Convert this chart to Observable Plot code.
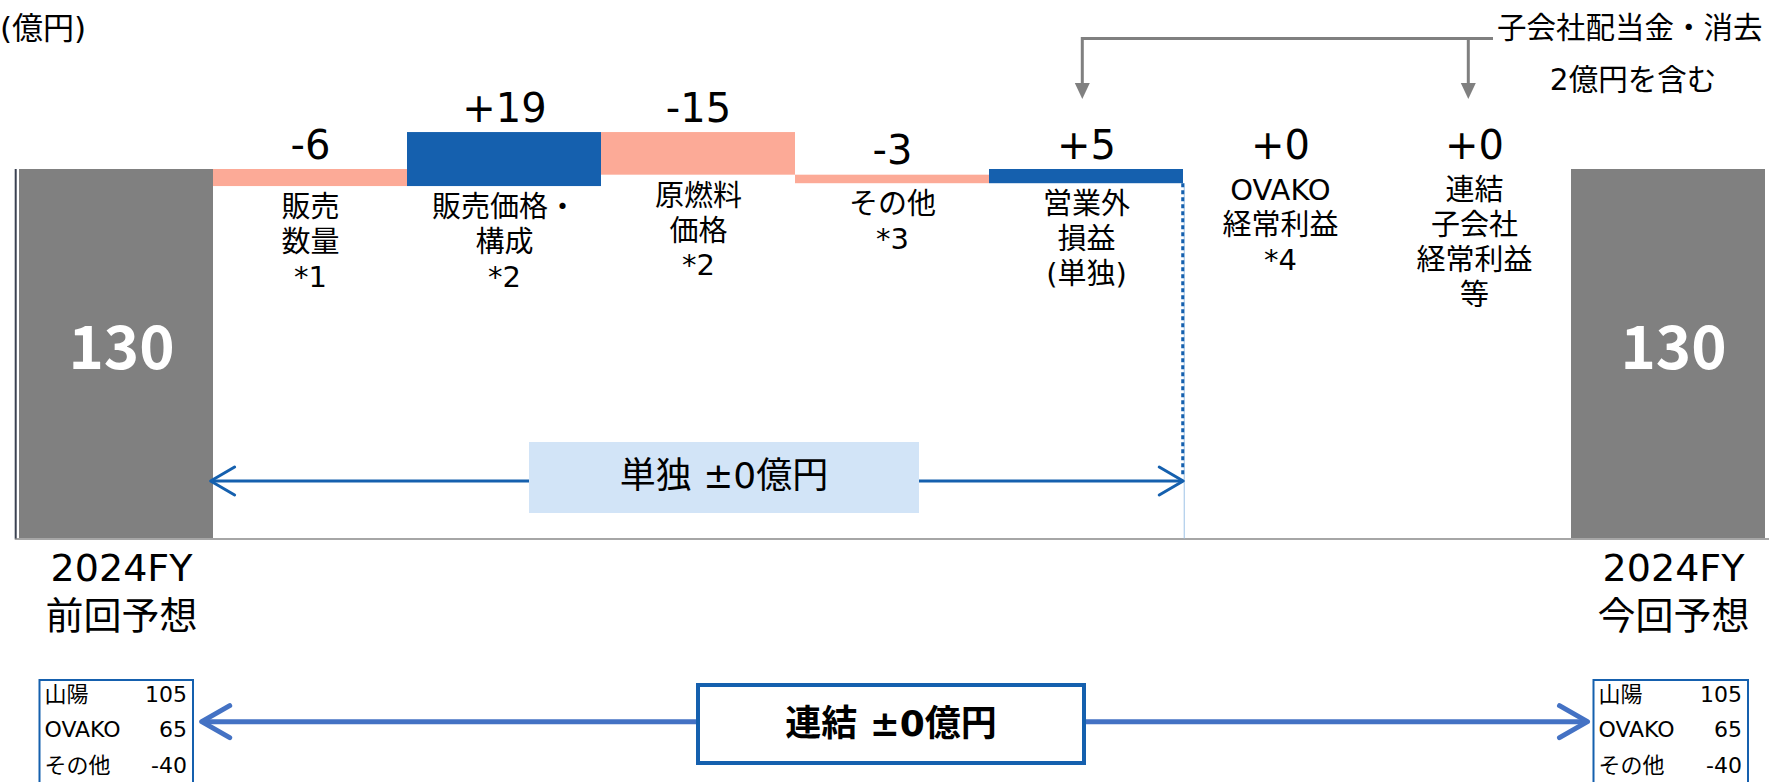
<!DOCTYPE html>
<html><head><meta charset="utf-8">
<script src="https://cdn.jsdelivr.net/npm/d3@7"></script>
<script src="https://cdn.jsdelivr.net/npm/@observablehq/plot@0.6"></script>
<style>html,body{margin:0;padding:0;background:#fff;overflow:hidden} svg{display:block}</style>
</head><body><div id="chart"></div>
<script>
// ---------- data ----------
const categories = ["前回予想", "販売数量", "販売価格・構成", "原燃料価格", "その他", "営業外損益", "OVAKO経常利益", "連結子会社経常利益等", "今回予想"];
const categoryLabels = ["2024FY\n前回予想", "販売\n数量\n*1", "販売価格・\n構成\n*2", "原燃料\n価格\n*2", "その他\n*3", "営業外\n損益\n(単独)", "OVAKO\n経常利益\n*4", "連結\n子会社\n経常利益\n等", "2024FY\n今回予想"];
const startTotal = 130;
const endTotal = 130;
const deltas = [-6, 19, -15, -3, 5, 0, 0];
const unitLabel = "(億円)";
const noteLines = ["子会社配当金・消去", "2億円を含む"];
const standaloneLabel = "単独 ±0億円";
const consolidatedLabel = "連結 ±0億円";
const breakdownNames = ["山陽", "OVAKO", "その他"];
const breakdownPrev = [105, 65, -40];
const breakdownCurr = [105, 65, -40];

// ---------- build table ----------
let run = startTotal;
const rows = categories.map((cat, i) => {
  const label = categoryLabels[i];
  if (i === 0) return {cat, label, y1: 0, y2: startTotal, kind: "total", value: startTotal};
  if (i === categories.length - 1) return {cat, label, y1: 0, y2: endTotal, kind: "total", value: endTotal};
  const d = deltas[i - 1];
  const s = run; run += d;
  return {cat, label, y1: s, y2: run, kind: d >= 0 ? "up" : "down", value: d};
});
const totals = rows.filter(d => d.kind === "total");
const steps = rows.filter(d => d.kind !== "total");
const colorOf = {total: "#808080", up: "#1560AE", down: "#FCAA97"};
const fmt = v => v > 0 ? "+" + v : v < 0 ? String(v) : "+0";

// ---------- layout ----------
const W = 1769, H = 782;
const FONT = "'DejaVu Sans', 'Noto Sans CJK JP', sans-serif";
const CJKFONT = "'Noto Sans CJK JP', sans-serif";
const xRange = [14.7, 1769];
const yDomain = [0, 130], yRange = [538.5, 169];
const xs = d3.scaleBand(categories, xRange).padding(0);
const ys = d3.scaleLinear(yDomain, yRange);

const plot = Plot.plot({
  width: W, height: H,
  marginTop: 0, marginBottom: 0, marginLeft: xRange[0], marginRight: 0,
  x: {type: "band", domain: categories, range: xRange, padding: 0, axis: null},
  y: {domain: yDomain, range: yRange, axis: null},
  style: {fontFamily: FONT, background: "#fff", overflow: "visible", color: "#000"},
  marks: [
    Plot.barY(rows, {x: "cat", y1: "y1", y2: "y2", fill: d => colorOf[d.kind], inset: 0}),
    Plot.ruleY([0], {stroke: "#A6A6A6", strokeWidth: 2}),
    Plot.text(steps, {x: "cat", y: d => Math.max(d.y1, d.y2), text: d => fmt(d.value), lineAnchor: "bottom", dy: -11, fontSize: 40, fill: "#000"}),
    Plot.text(steps, {x: "cat", y: d => Math.min(d.y1, d.y2), text: "label", lineAnchor: "top", dy: 6, fontSize: 29, lineHeight: 1.2, fill: "#000"}),
    Plot.text(totals, {x: "cat", y: d => d.value / 2, text: d => String(d.value), fill: "#fff", fontWeight: "bold", fontSize: 60, fontFamily: CJKFONT, dx: 5, dy: -4}),
    Plot.text(totals, {x: "cat", y: 0, text: "label", lineAnchor: "top", dy: 8, dx: 5, fontSize: 38, lineHeight: 1.26, fill: "#000"})
  ]
});
document.getElementById("chart").appendChild(plot);

// ---------- annotations ----------
const svg = d3.select(plot);
const g = svg.append("g").attr("font-family", FONT).attr("text-anchor", "start");

// dark edge on the first total bar
g.append("line").attr("x1", xRange[0] + 1).attr("x2", xRange[0] + 1)
  .attr("y1", ys(startTotal)).attr("y2", ys(0)).attr("stroke", "#3B4252").attr("stroke-width", 2);

// unit label
g.append("text").attr("x", 0).attr("y", 28).attr("text-anchor", "start").attr("dominant-baseline", "central")
  .attr("font-size", 31).text(unitLabel);

// standalone bracket: dotted connector + arrow
const standEnd = steps.find(d => d.cat === "営業外損益");
const edgeX = xs("OVAKO経常利益");
const arrowY = 481;
g.append("line").attr("x1", edgeX).attr("x2", edgeX).attr("y1", ys(Math.min(standEnd.y1, standEnd.y2)))
  .attr("y2", ys(0)).attr("stroke", "#9DC3E6").attr("stroke-width", 1);
g.append("line").attr("x1", edgeX - 1.5).attr("x2", edgeX - 1.5)
  .attr("y1", ys(Math.min(standEnd.y1, standEnd.y2))).attr("y2", arrowY - 4)
  .attr("stroke", "#1560AE").attr("stroke-width", 3).attr("stroke-dasharray", "4,3");

const ax1 = xs("販売数量"), ax2 = edgeX;
g.append("line").attr("x1", ax1 + 2).attr("x2", ax2 - 2).attr("y1", arrowY).attr("y2", arrowY)
  .attr("stroke", "#1560AE").attr("stroke-width", 3);
g.append("polyline").attr("points", `${ax1 + 25},${arrowY - 14} ${ax1 + 1},${arrowY} ${ax1 + 25},${arrowY + 14}`)
  .attr("fill", "none").attr("stroke", "#1560AE").attr("stroke-width", 3).attr("stroke-linecap", "round").attr("stroke-linejoin", "round");
g.append("polyline").attr("points", `${ax2 - 25},${arrowY - 14} ${ax2 - 1},${arrowY} ${ax2 - 25},${arrowY + 14}`)
  .attr("fill", "none").attr("stroke", "#1560AE").attr("stroke-width", 3).attr("stroke-linecap", "round").attr("stroke-linejoin", "round");
g.append("rect").attr("x", 529).attr("y", 442).attr("width", 390).attr("height", 71).attr("fill", "#D2E4F7");
g.append("text").attr("x", 724).attr("y", 475).attr("text-anchor", "middle").attr("dominant-baseline", "central")
  .attr("font-size", 36).text(standaloneLabel);

// gray note connector
const gx1 = 1082.3, gx2 = 1468.3, gy = 38.5, gTip = 99;
g.append("polyline").attr("points", `${gx1},${gTip - 12} ${gx1},${gy} 1493,${gy}`)
  .attr("fill", "none").attr("stroke", "#808080").attr("stroke-width", 3);
g.append("line").attr("x1", gx2).attr("x2", gx2).attr("y1", gy).attr("y2", gTip - 12)
  .attr("stroke", "#808080").attr("stroke-width", 3);
[gx1, gx2].forEach(x => g.append("polygon")
  .attr("points", `${x - 7.5},${gTip - 16} ${x + 7.5},${gTip - 16} ${x},${gTip}`).attr("fill", "#808080"));
g.append("text").attr("x", 1497).attr("y", 28).attr("text-anchor", "start").attr("dominant-baseline", "central")
  .attr("font-size", 29.5).text(noteLines[0]);
g.append("text").attr("x", 1633).attr("y", 80).attr("text-anchor", "middle").attr("dominant-baseline", "central")
  .attr("font-size", 29.5).text(noteLines[1]);

// consolidated arrow + box
const cy = 721.7, cx1 = 199.7, cx2 = 1589.5;
g.append("line").attr("x1", cx1 + 3).attr("x2", cx2 - 3).attr("y1", cy).attr("y2", cy)
  .attr("stroke", "#4472C4").attr("stroke-width", 5);
g.append("polyline").attr("points", `${cx1 + 30},${cy - 16} ${cx1 + 2},${cy} ${cx1 + 30},${cy + 16}`)
  .attr("fill", "none").attr("stroke", "#4472C4").attr("stroke-width", 5).attr("stroke-linecap", "round").attr("stroke-linejoin", "round");
g.append("polyline").attr("points", `${cx2 - 30},${cy - 16} ${cx2 - 2},${cy} ${cx2 - 30},${cy + 16}`)
  .attr("fill", "none").attr("stroke", "#4472C4").attr("stroke-width", 5).attr("stroke-linecap", "round").attr("stroke-linejoin", "round");
g.append("rect").attr("x", 698).attr("y", 685).attr("width", 386).attr("height", 78)
  .attr("fill", "#fff").attr("stroke", "#1560AE").attr("stroke-width", 4);
g.append("text").attr("x", 891).attr("y", 723).attr("text-anchor", "middle").attr("dominant-baseline", "central")
  .attr("font-size", 36).attr("font-weight", "bold").text(consolidatedLabel);

// breakdown tables
function table(x0, x1, values) {
  g.append("rect").attr("x", x0).attr("y", 680).attr("width", x1 - x0).attr("height", 130)
    .attr("fill", "#fff").attr("stroke", "#1560AE").attr("stroke-width", 2);
  const rowY = [694, 729, 765];
  breakdownNames.forEach((n, i) => {
    g.append("text").attr("x", x0 + 5).attr("y", rowY[i]).attr("text-anchor", "start").attr("dominant-baseline", "central")
      .attr("font-size", 22).text(n);
    g.append("text").attr("x", x1 - 6).attr("y", rowY[i]).attr("text-anchor", "end").attr("dominant-baseline", "central")
      .attr("font-size", 22).text(String(values[i]));
  });
}
table(39.5, 193, breakdownPrev);
table(1593.5, 1748, breakdownCurr);
</script>
</body></html>
